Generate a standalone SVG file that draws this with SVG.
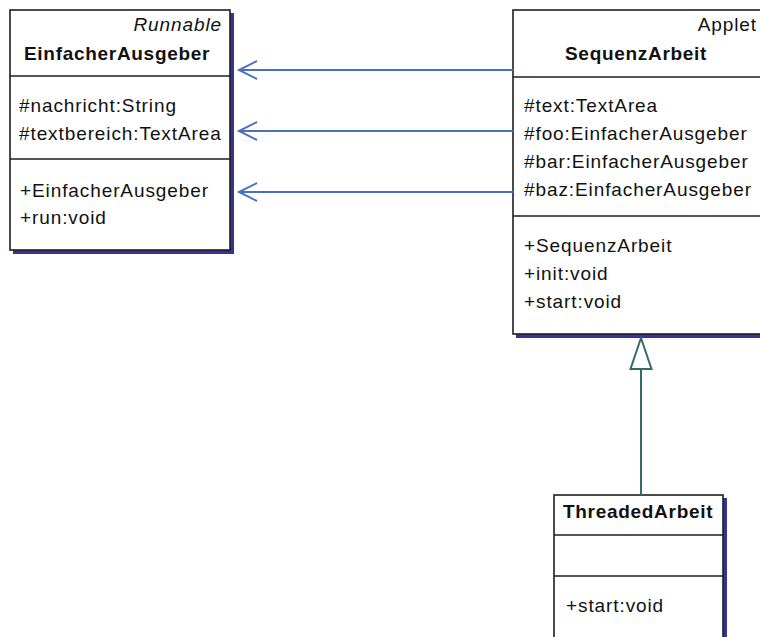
<svg xmlns="http://www.w3.org/2000/svg" width="760" height="637" viewBox="0 0 760 637">
  <style>
    .box { fill: #ffffff; stroke: #1e1e1e; stroke-width: 1.6; }
    .shadow { fill: #33339a; }
    .sep { stroke: #1e1e1e; stroke-width: 1.6; }
    text { font-family: "Liberation Sans", Arial, sans-serif; font-size: 19px; fill: #111111; letter-spacing: 0.9px; }
    .title { font-weight: bold; letter-spacing: 0.7px; }
    .stereo { font-style: italic; }
    .assoc { stroke: #4a6fc0; stroke-width: 2; fill: none; }
    .gen { stroke: #336b6b; stroke-width: 2; fill: none; }
  </style>
  <rect width="760" height="637" fill="#ffffff"/>

  <!-- EinfacherAusgeber -->
  <g id="einfacher-ausgeber">
    <rect class="shadow" x="13" y="13" width="221" height="241"/>
    <rect class="box" x="10" y="10" width="220" height="240"/>
    <line class="sep" x1="10" y1="76" x2="230" y2="76"/>
    <line class="sep" x1="10" y1="159" x2="230" y2="159"/>
    <text class="stereo" x="222" y="31" text-anchor="end">Runnable</text>
    <text class="title" x="24" y="60">EinfacherAusgeber</text>
    <text x="19" y="112">#nachricht:String</text>
    <text x="19" y="140">#textbereich:TextArea</text>
    <text x="20" y="197">+EinfacherAusgeber</text>
    <text x="20" y="224">+run:void</text>
  </g>

  <!-- SequenzArbeit -->
  <g id="sequenz-arbeit">
    <rect class="shadow" x="516" y="13" width="260" height="325"/>
    <rect class="box" x="513" y="10" width="260" height="324"/>
    <line class="sep" x1="513" y1="77" x2="773" y2="77"/>
    <line class="sep" x1="513" y1="216" x2="773" y2="216"/>
    <text x="757" y="31" text-anchor="end">Applet</text>
    <text class="title" x="565" y="60">SequenzArbeit</text>
    <text x="524" y="112">#text:TextArea</text>
    <text x="524" y="140">#foo:EinfacherAusgeber</text>
    <text x="524" y="168">#bar:EinfacherAusgeber</text>
    <text x="524" y="196">#baz:EinfacherAusgeber</text>
    <text x="524" y="252">+SequenzArbeit</text>
    <text x="524" y="280">+init:void</text>
    <text x="524" y="308">+start:void</text>
  </g>

  <!-- ThreadedArbeit -->
  <g id="threaded-arbeit">
    <rect class="shadow" x="557" y="498" width="170" height="150"/>
    <rect class="box" x="554" y="495" width="169" height="150"/>
    <line class="sep" x1="554" y1="535" x2="723" y2="535"/>
    <line class="sep" x1="554" y1="576" x2="723" y2="576"/>
    <text class="title" x="563" y="518">ThreadedArbeit</text>
    <text x="566" y="612">+start:void</text>
  </g>

  <!-- connectors -->
  <g id="connectors">
    <!-- associations: SequenzArbeit -> EinfacherAusgeber -->
    <line class="assoc" x1="513" y1="70" x2="239" y2="70"/>
    <polyline class="assoc" points="257,61 239,70 257,79"/>
    <line class="assoc" x1="513" y1="131" x2="239" y2="131"/>
    <polyline class="assoc" points="257,122 239,131 257,140"/>
    <line class="assoc" x1="513" y1="192" x2="239" y2="192"/>
    <polyline class="assoc" points="257,183 239,192 257,201"/>
    <!-- generalization: ThreadedArbeit -> SequenzArbeit -->
    <line class="gen" x1="641" y1="495" x2="641" y2="369"/>
    <polygon class="gen" fill="#ffffff" points="641,338 630.5,369 651.5,369"/>
  </g>
</svg>
